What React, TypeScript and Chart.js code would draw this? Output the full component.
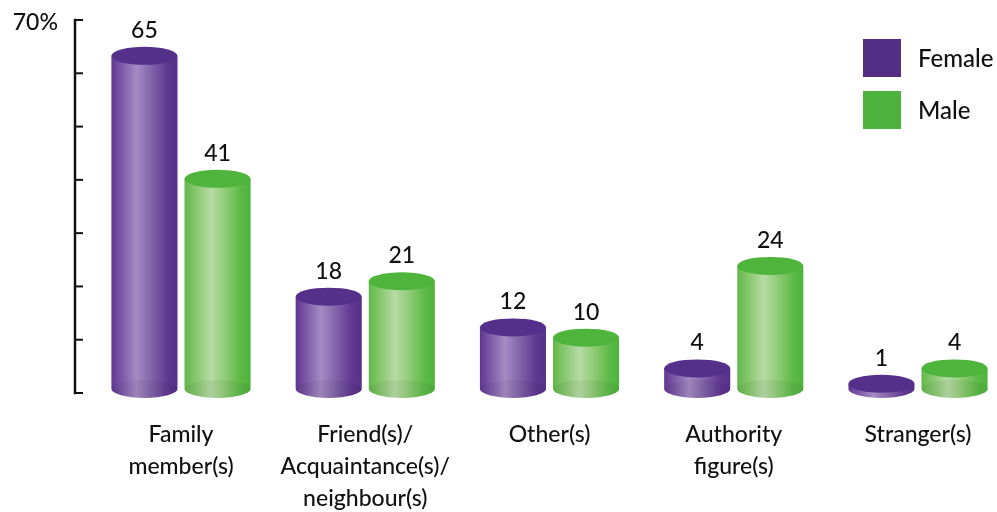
import React, { useEffect, useRef } from 'react';
import { Chart, registerables } from 'chart.js';

Chart.register(...registerables);

// ---- data ----
const categories: string[][] = [
  ['Family', 'member(s)'],
  ['Friend(s)/', 'Acquaintance(s)/', 'neighbour(s)'],
  ['Other(s)'],
  ['Authority', 'figure(s)'],
  ['Stranger(s)'],
];
const seriesNames = ['Female', 'Male'];
const femaleValues = [65, 18, 12, 4, 1];
const maleValues = [41, 21, 10, 24, 4];
const yTickValues = [0, 10, 20, 30, 40, 50, 60, 70];
const yTopLabel = '70%';

// ---- styles ----
const FONT = 'Lato, "Open Sans", sans-serif';
const TEXT = '#111111';
const palettes = [
  {
    top: '#55308a',
    legend: '#532d84',
    stops: [
      [0, '#60368f'],
      [0.12, '#7650a3'],
      [0.38, '#a58bc3'],
      [0.62, '#8061a9'],
      [0.85, '#613891'],
      [1, '#56308a'],
    ] as [number, string][],
  },
  {
    top: '#4fb43c',
    legend: '#4db33d',
    stops: [
      [0, '#62b64b'],
      [0.12, '#7cc362'],
      [0.4, '#b7dba5'],
      [0.62, '#8ecc74'],
      [0.85, '#5cba47'],
      [1, '#4eb33c'],
    ] as [number, string][],
  },
];
const AXIS_X = 75;
const TICK_LEN = 8;
const RY = 9;

const cylinderPlugin = {
  id: 'cylinders',
  afterDatasetsDraw(chart: any) {
    const ctx: CanvasRenderingContext2D = chart.ctx;
    chart.data.datasets.forEach((ds: any, di: number) => {
      const meta = chart.getDatasetMeta(di);
      const pal = palettes[di];
      meta.data.forEach((el: any, i: number) => {
        const { x, y, base, width } = el.getProps(['x', 'y', 'base', 'width'], true);
        const rx = width / 2;
        const left = x - rx;
        const right = x + rx;
        const g = ctx.createLinearGradient(left, 0, right, 0);
        pal.stops.forEach(([o, c]) => g.addColorStop(o, c));
        ctx.save();
        // body
        ctx.beginPath();
        ctx.moveTo(left, y);
        ctx.lineTo(left, base);
        ctx.ellipse(x, base, rx, RY, 0, Math.PI, 0, true);
        ctx.lineTo(right, y);
        ctx.closePath();
        ctx.fillStyle = g;
        ctx.fill();
        // subtle base shading
        if (base - y > RY) {
          ctx.beginPath();
          ctx.ellipse(x, base, rx, RY, 0, 0, Math.PI * 2);
          ctx.fillStyle = 'rgba(0,0,0,0.05)';
          ctx.fill();
        }
        // top
        ctx.beginPath();
        ctx.ellipse(x, y, rx, RY, 0, 0, Math.PI * 2);
        ctx.fillStyle = pal.top;
        ctx.fill();
        // value label
        ctx.fillStyle = TEXT;
        ctx.font = `500 23px ${FONT}`;
        ctx.textAlign = 'center';
        ctx.textBaseline = 'alphabetic';
        ctx.fillText(String(ds.data[i]), x, y - RY - 9);
        ctx.restore();
      });
    });
  },
  afterDraw(chart: any) {
    const ctx: CanvasRenderingContext2D = chart.ctx;
    const ys = chart.scales.y;
    const yTop = ys.getPixelForValue(yTickValues[yTickValues.length - 1]);
    const yBot = ys.getPixelForValue(yTickValues[0]);
    ctx.save();
    ctx.strokeStyle = '#111';
    ctx.lineWidth = 2.5;
    ctx.beginPath();
    ctx.moveTo(AXIS_X, yTop - 1.25);
    ctx.lineTo(AXIS_X, yBot + 1.25);
    ctx.stroke();
    ctx.lineWidth = 2;
    yTickValues.forEach((v) => {
      const py = ys.getPixelForValue(v);
      ctx.beginPath();
      ctx.moveTo(AXIS_X, py);
      ctx.lineTo(AXIS_X + TICK_LEN, py);
      ctx.stroke();
    });
    ctx.fillStyle = TEXT;
    ctx.font = `500 23px ${FONT}`;
    ctx.textAlign = 'right';
    ctx.textBaseline = 'middle';
    ctx.fillText(yTopLabel, 58, yTop + 3);

    // legend
    ctx.font = `500 24px ${FONT}`;
    ctx.textAlign = 'left';
    seriesNames.forEach((name, i) => {
      const top = 39 + i * 52;
      ctx.fillStyle = palettes[i].legend;
      ctx.fillRect(863, top, 38, 38);
      ctx.fillStyle = TEXT;
      ctx.fillText(name, 918, top + 20);
    });
    ctx.restore();
  },
};

export default function App() {
  const ref = useRef<HTMLCanvasElement | null>(null);
  useEffect(() => {
    if (!ref.current) return;
    const chart = new Chart(ref.current, {
      type: 'bar',
      data: {
        labels: categories as any,
        datasets: [
          {
            label: seriesNames[0],
            data: femaleValues,
            yAxisID: 'yb',
            backgroundColor: 'rgba(0,0,0,0)',
            borderWidth: 0,
          },
          {
            label: seriesNames[1],
            data: maleValues,
            yAxisID: 'yb',
            backgroundColor: 'rgba(0,0,0,0)',
            borderWidth: 0,
          },
        ],
      },
      options: {
        animation: false,
        responsive: false,
        events: [],
        layout: { padding: { left: 181, right: 79, top: 20, bottom: 0 } },
        categoryPercentage: 0.7935,
        barPercentage: 0.904,
        plugins: { legend: { display: false }, tooltip: { enabled: false } },
        scales: {
          x: {
            type: 'category',
            offset: false,
            grid: { display: false, drawTicks: false },
            border: { display: false },
            ticks: {
              autoSkip: false,
              maxRotation: 0,
              padding: 25,
              color: TEXT,
              font: { family: FONT, size: 23, weight: '500', lineHeight: 1.4 },
            },
            afterFit: (s: any) => {
              s.height = 119;
            },
          },
          y: { display: false, min: 0, max: 70 },
          yb: { display: false, min: -0.8, max: 72 },
        },
      } as any,
      plugins: [cylinderPlugin],
    });
    return () => chart.destroy();
  }, []);
  return (
    <div style={{ position: 'absolute', left: 0, top: 0, width: 997, height: 512, background: '#fff' }}>
      <canvas ref={ref} width={997} height={512} style={{ display: 'block' }} />
    </div>
  );
}
